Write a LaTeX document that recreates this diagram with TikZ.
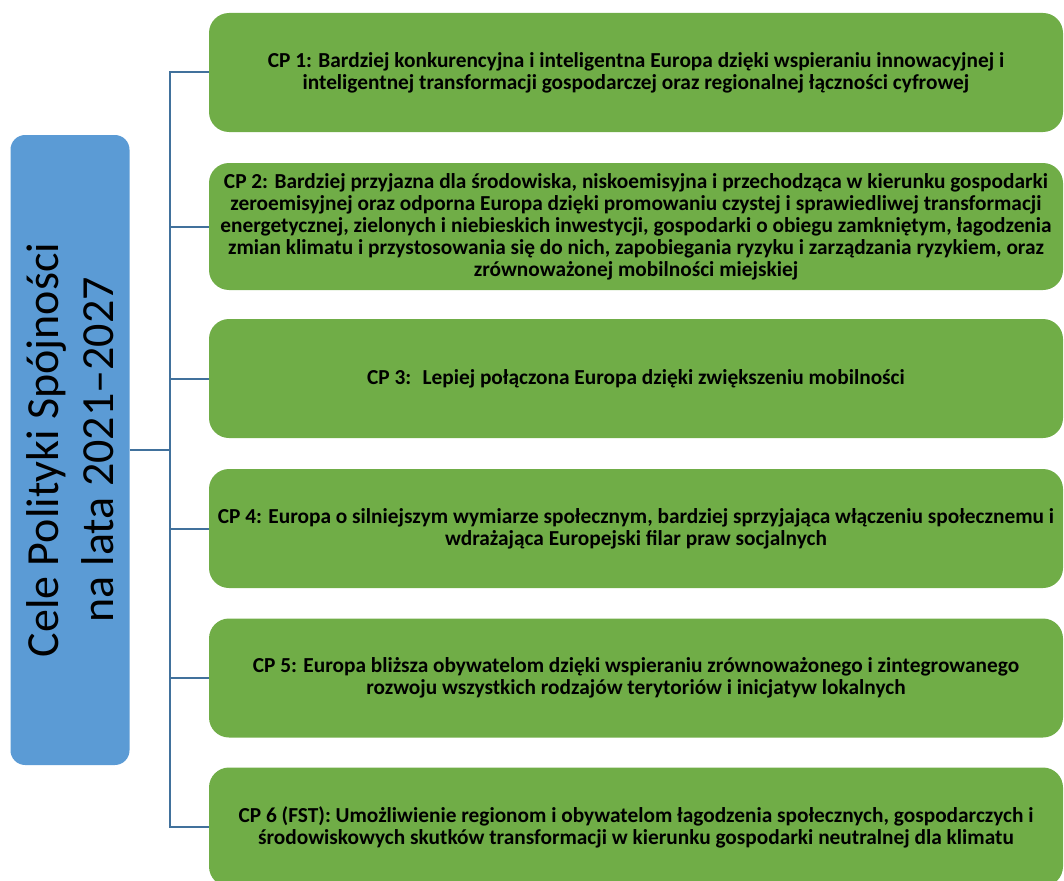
\documentclass[tikz,border=0pt]{standalone}
\usepackage{fontspec}
\setmainfont{Carlito}
\definecolor{goalgreen}{RGB}{112,173,71}
\definecolor{titleblue}{RGB}{91,155,213}
\definecolor{linkblue}{RGB}{65,113,156}
\begin{document}
\begin{tikzpicture}[x=0.75pt,y=-0.75pt,
    goal/.style={fill=goalgreen,rounded corners=15pt,minimum width=640.5pt,minimum height=89.25pt,
      inner sep=0pt,align=center,font=\bfseries\fontsize{16}{16.5}\selectfont},
    title/.style={fill=titleblue,rounded corners=11pt,rotate=90,minimum width=472.5pt,minimum height=89.25pt,
      inner sep=0pt,align=center,font=\fontsize{34.5}{41}\selectfont},
    link/.style={draw=linkblue,line width=1.5pt}]
  \useasboundingbox (0,0) rectangle (1064,881);
  \clip (0,0) rectangle (1064,881);
  \node[title] (cel) at (70,450) {Cele Polityki Spójności\\na lata 2021–2027};
  \node[goal] (cp1) at (636,72.5) {CP 1: Bardziej konkurencyjna i inteligentna Europa dzięki wspieraniu innowacyjnej i\\
    inteligentnej transformacji gospodarczej oraz regionalnej łączności cyfrowej};
  \node[goal,minimum height=95.25pt] (cp2) at (636,226.5) {CP 2: Bardziej przyjazna dla środowiska, niskoemisyjna i przechodząca w kierunku gospodarki\\
    zeroemisyjnej oraz odporna Europa dzięki promowaniu czystej i sprawiedliwej transformacji\\
    energetycznej, zielonych i niebieskich inwestycji, gospodarki o obiegu zamkniętym, łagodzenia\\
    zmian klimatu i przystosowania się do nich, zapobiegania ryzyku i zarządzania ryzykiem, oraz\\
    zrównoważonej mobilności miejskiej};
  \node[goal] (cp3) at (636,378.5) {CP 3:~ Lepiej połączona Europa dzięki zwiększeniu mobilności};
  \node[goal] (cp4) at (636,528.5) {CP 4: Europa o silniejszym wymiarze społecznym, bardziej sprzyjająca włączeniu społecznemu i\\
    wdrażająca Europejski filar praw socjalnych};
  \node[goal] (cp5) at (636,678) {CP 5: Europa bliższa obywatelom dzięki wspieraniu zrównoważonego i zintegrowanego\\
    rozwoju wszystkich rodzajów terytoriów i inicjatyw lokalnych};
  \node[goal] (cp6) at (636,827) {CP 6 (FST): Umożliwienie regionom i obywatelom łagodzenia społecznych, gospodarczych i\\
    środowiskowych skutków transformacji w kierunku gospodarki neutralnej dla klimatu};
  \coordinate (trunk) at (170,450);
  \draw[link](cp1.west)--(cp1.west-|trunk)--(cp6.west-|trunk)--(cp6.west)
    (cel.south)--(cel.south-|trunk)
    (cp2.west)--(cp2.west-|trunk) (cp3.west)--(cp3.west-|trunk)
    (cp4.west)--(cp4.west-|trunk) (cp5.west)--(cp5.west-|trunk);
\end{tikzpicture}
\end{document}
